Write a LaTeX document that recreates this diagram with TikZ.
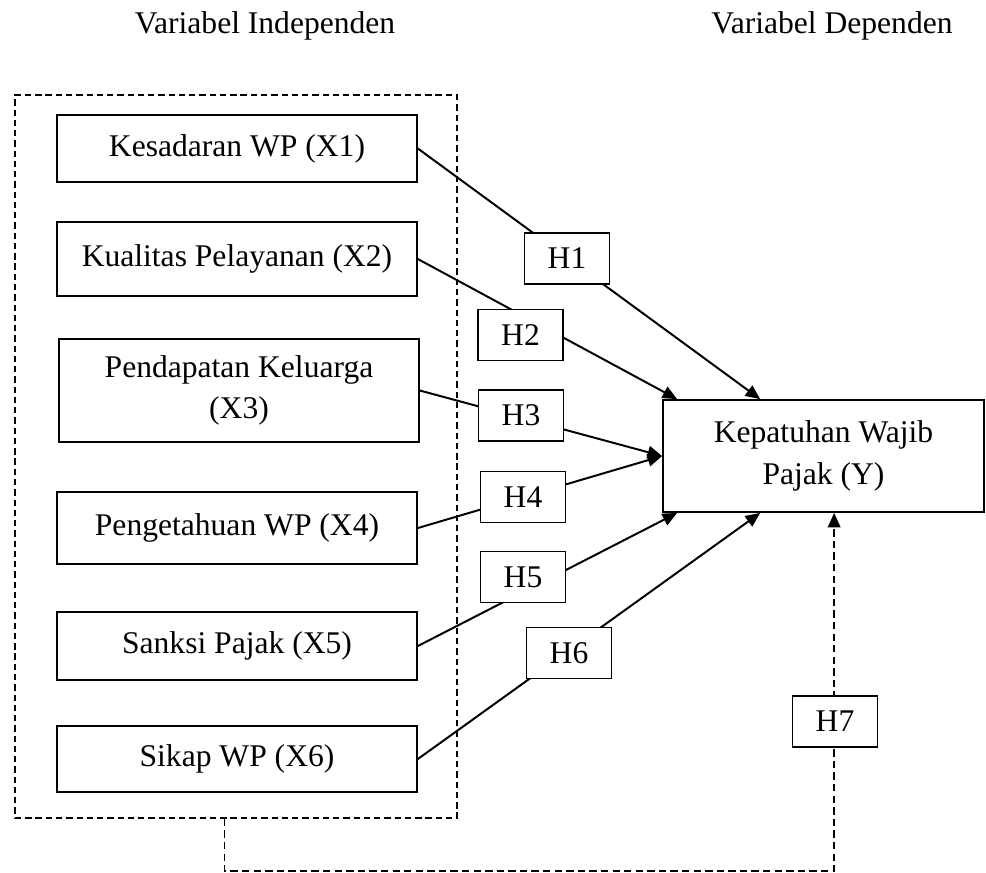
\documentclass[tikz,border=0pt]{standalone}
\usepackage{fontspec}
\setmainfont{Liberation Serif}
\usetikzlibrary{arrows.meta, calc}

\tikzset{
    varbox/.style={draw, line width=0.65pt, align=center, minimum width=136.8pt, inner sep=2pt, font=\fontsize{12}{15.8}\selectfont},
    hypbox/.style={draw, line width=0.65pt, fill=white, minimum width=32.3pt, minimum height=19.4pt, inner sep=1pt, font=\fontsize{12}{14}\selectfont},
    title/.style={font=\fontsize{12}{14}\selectfont},
    link/.style={line width=0.75pt, -{Triangle[length=5.5pt, width=4.8pt]}},
    frame/.style={draw, line width=0.65pt, dash pattern=on 2.4pt off 1.5pt},
}

\begin{document}
\begin{tikzpicture}[x=0.38pt, y=-0.38pt]
    \useasboundingbox (0, 0) rectangle (986, 872);

    % judul kolom
    \node[title] (tind) at (265, 26) {Variabel Independen};
    \node[title] (tdep) at (832, 26) {Variabel Dependen};

    % kelompok variabel independen
    \node[frame, minimum width=168pt, minimum height=274.7pt] (indep) at (236, 456.5) {};

    \node[varbox, minimum height=25.5pt] (x1) at (237, 148.5) {Kesadaran WP (X1)};
    \node[varbox, minimum height=28.1pt] (x2) at (237, 259) {Kualitas Pelayanan (X2)};
    \node[varbox, minimum height=39.1pt] (x3) at (239, 390.5) {Pendapatan Keluarga\\(X3)};
    \node[varbox, minimum height=27.4pt] (x4) at (237, 528) {Pengetahuan WP (X4)};
    \node[varbox, minimum height=25.8pt] (x5) at (237, 646) {Sanksi Pajak (X5)};
    \node[varbox, minimum height=25.1pt] (x6) at (237, 759) {Sikap WP (X6)};

    % variabel dependen
    \node[varbox, minimum width=122pt, minimum height=42.6pt] (y) at (823.5, 456) {Kepatuhan Wajib\\Pajak (Y)};

    \coordinate (t1) at ($(y.north west) + (98, 0)$);
    \coordinate (t2) at ($(y.north west) + (15, 0)$);
    \coordinate (t5) at ($(y.south west) + (15, 0)$);
    \coordinate (t6) at ($(y.south west) + (98, 0)$);
    \coordinate (t7) at ($(y.south west) + (172, 0)$);

    % hubungan
    \draw[link] (x1.east) -- (t1);
    \draw[link] (x2.east) -- (t2);
    \draw[link] (x3.east) -- (y.west);
    \draw[link] (x4.east) -- (y.west);
    \draw[link] (x5.east) -- (t5);
    \draw[link] (x6.east) -- (t6);
    \draw[link, line width=0.65pt, dash pattern=on 2.8pt off 1.6pt] ($(indep.south) + (-11.5, 0)$) -- ++(0, 52) -| (t7);

    % hipotesis
    \node[hypbox] (h1) at (567, 258.5) {H1};
    \node[hypbox] (h2) at (520.5, 335) {H2};
    \node[hypbox] (h3) at (521, 415.5) {H3};
    \node[hypbox] (h4) at (523, 497) {H4};
    \node[hypbox] (h5) at (523, 577) {H5};
    \node[hypbox] (h6) at (569, 653) {H6};
    \node[hypbox] (h7) at (835, 721.5) {H7};
\end{tikzpicture}
\end{document}
